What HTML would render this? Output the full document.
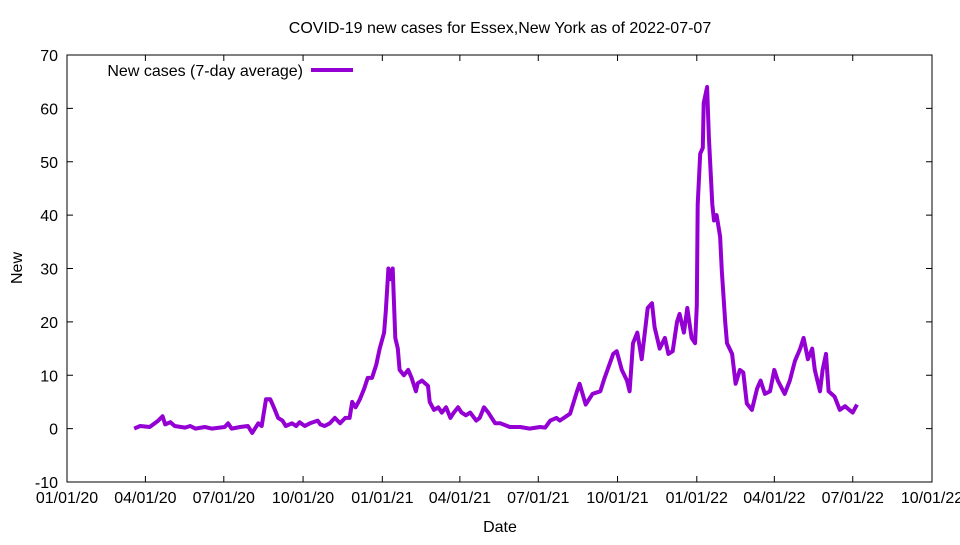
<!DOCTYPE html>
<html><head><meta charset="utf-8"><style>
body{margin:0;background:#fff}
svg text{font-family:"Liberation Sans",sans-serif;font-size:16px;fill:#000}
</style></head><body>
<svg id="chart" width="960" height="540" xmlns="http://www.w3.org/2000/svg">
<rect width="960" height="540" fill="#fff"/>
<text x="500" y="33" text-anchor="middle">COVID-19 new cases for Essex,New York as of 2022-07-07</text>
<text x="500" y="532" text-anchor="middle">Date</text>
<text transform="translate(22,268) rotate(-90)" text-anchor="middle">New</text>
<g id="ticks"></g>
<g id="series"></g>
<rect x="67" y="55" width="865" height="427" fill="none" stroke="#000" stroke-width="1"/>
<g>
<text x="303" y="76" text-anchor="end">New cases (7-day average)</text>
<line x1="311" y1="70" x2="353" y2="70" stroke="#9400d3" stroke-width="4"/>
</g>
</svg>
<script>
const days=[78,85,96,106,111,114,120,125,137,143,149,160,168,183,187,191,201,210,215,222,226,231,236,240,245,250,254,261,266,270,276,282,291,294,299,305,311,317,323,328,331,335,340,345,349,354,359,363,368,370,373,376,378,381,384,386,391,396,400,405,407,412,419,421,426,431,435,440,445,449,454,458,463,468,475,479,484,489,493,497,503,514,526,537,549,555,561,568,572,584,592,595,602,610,619,624,634,638,644,650,653,657,662,667,674,679,682,688,694,698,703,708,711,716,720,725,729,731,732,735,738,739,743,745,749,751,754,758,760,764,766,772,776,781,785,789,795,801,805,810,816,821,825,833,839,845,851,855,860,865,868,874,877,881,884,891,897,903,908,912,917];
const values=[0,0.5,0.3,1.5,2.3,0.8,1.2,0.5,0.2,0.5,0,0.3,0,0.3,1,0,0.3,0.5,-0.8,1,0.5,5.5,5.5,4,2,1.5,0.5,1,0.5,1.2,0.5,1,1.5,0.8,0.5,1,2,1,2,2,5,4,5.5,7.5,9.5,9.5,12,15,18,22,30,28,30,17,15,11,10,11,9.5,7,8.5,9,8,5,3.5,4,3,4,2,3,4,3,2.5,3,1.5,2,4,3,2,1,1,0.3,0.3,0,0.3,0.2,1.5,2,1.5,2.8,7,8.4,4.5,6.5,7,9.5,14,14.5,11,9,7,16,18,13,22.6,23.5,19,15,17,14,14.5,20,21.5,18,22.6,17,16,23,42,51.5,52.6,61,64,54.5,42,39,40,36,29.6,20,16,14,8.4,11,10.5,4.7,3.5,7.5,9,6.5,7,11,9,6.5,9,12.7,15,17,13,15,11,7,11,14,7,6,3.5,4.2,3.5,3,4.5];
const yTicks=[-10,0,10,20,30,40,50,60,70];
const xTickDays=[0,91,182,274,366,456,547,639,731,821,912,1004];
const xTickLabels=["01/01/20","04/01/20","07/01/20","10/01/20","01/01/21","04/01/21","07/01/21","10/01/21","01/01/22","04/01/22","07/01/22","10/01/22"];
const X0=67,X1=932,Y0=482,Y1=55,DMAX=1004,VMIN=-10,VMAX=70;
const xs=d=>X0+d*(X1-X0)/DMAX;
const ys=v=>Y0-(v-VMIN)*(Y0-Y1)/(VMAX-VMIN);
const NS="http://www.w3.org/2000/svg";
const tg=document.getElementById('ticks');
function mk(tag,attrs,parent){const e=document.createElementNS(NS,tag);for(const k in attrs)e.setAttribute(k,attrs[k]);parent.appendChild(e);return e;}
yTicks.forEach(v=>{
  const y=ys(v);
  const l=mk('path',{d:`M${X0},${y}h6M${X1},${y}h-6`,stroke:'#000','stroke-width':1},tg);
  
  
  const t=mk('text',{x:X0-9,y:y+6,'text-anchor':'end'},tg);t.textContent=v;
  
  
});
xTickDays.forEach((d,i)=>{
  const x=xs(d);
  const l=mk('path',{d:`M${x},${Y0}v-6M${x},${Y1}v6`,stroke:'#000','stroke-width':1},tg);
  
  
  const t=mk('text',{x:x,y:Y0+21,'text-anchor':'middle'},tg);t.textContent=xTickLabels[i];
  
  
});
const pts=days.map((d,i)=>xs(d).toFixed(1)+','+ys(values[i]).toFixed(1)).join(' ');
const pl=mk('polyline',{points:pts,fill:'none',stroke:'#9400d3','stroke-width':4,'stroke-linejoin':'round'},document.getElementById('series'));


</script>
</body></html>
